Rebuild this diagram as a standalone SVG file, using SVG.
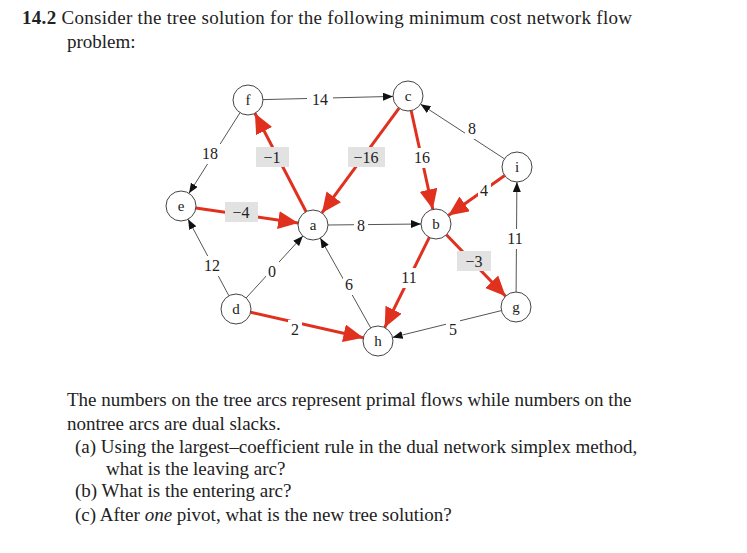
<svg xmlns="http://www.w3.org/2000/svg" width="747" height="553" viewBox="0 0 747 553">
<style>
.t{font-family:"Liberation Serif",serif;font-size:19px;fill:#222}
.n circle{fill:#fff;stroke:#444;stroke-width:1}
.n text{font-family:"Liberation Serif",serif;font-size:15px;text-anchor:middle;fill:#222}
.bk{stroke:#555;stroke-width:1;marker-end:url(#ab)}
.rd{stroke:#e0301e;stroke-width:3;marker-end:url(#ar)}
.lb{font-family:"Liberation Serif",serif;font-size:16px;text-anchor:middle;fill:#222}
.wb{fill:#fff}
.gb{fill:#e2e2e2}
</style>
<defs>
<marker id="ab" markerUnits="userSpaceOnUse" markerWidth="11" markerHeight="9" refX="10" refY="4" orient="auto"><path d="M0,0L10,4L0,8z" fill="#111"/></marker>
<marker id="ar" markerUnits="userSpaceOnUse" markerWidth="21" markerHeight="19" refX="20" refY="9" orient="auto"><path d="M0,0L20,9L0,18z" fill="#e0301e"/></marker>
</defs>
<rect width="747" height="553" fill="#fff"/>
<text class="t" x="22" y="24" textLength="610"><tspan font-weight="bold">14.2</tspan> Consider the tree solution for the following minimum cost network flow</text>
<text class="t" x="67" y="48">problem:</text>
<g id="connectors">
<line class="bk" x1="263" y1="99.6" x2="393" y2="96.4"/>
<line class="bk" x1="504.4" y1="158.8" x2="420.6" y2="104.2"/>
<line class="bk" x1="240" y1="112.7" x2="189" y2="193.3"/>
<line class="rd" x1="306.1" y1="211.7" x2="254.9" y2="113.3"/>
<line class="rd" x1="399.1" y1="108.1" x2="321.9" y2="212.9"/>
<line class="rd" x1="411.2" y1="110.7" x2="432.8" y2="209.3"/>
<line class="rd" x1="504.7" y1="175.6" x2="448.3" y2="215.4"/>
<line class="rd" x1="195.8" y1="208.1" x2="298.2" y2="222.9"/>
<line class="bk" x1="328" y1="225" x2="421" y2="224"/>
<line class="bk" x1="516.1" y1="292" x2="516.9" y2="182"/>
<line class="bk" x1="228.9" y1="295.8" x2="188.1" y2="219.2"/>
<line class="bk" x1="246.1" y1="298" x2="302.9" y2="236"/>
<line class="bk" x1="370.7" y1="327.9" x2="320.3" y2="238.1"/>
<line class="rd" x1="429.3" y1="237.4" x2="384.7" y2="327.6"/>
<line class="rd" x1="446.4" y1="234.8" x2="505.6" y2="296.2"/>
<line class="rd" x1="250.6" y1="312.3" x2="363.4" y2="337.7"/>
<line class="bk" x1="501.4" y1="310.6" x2="392.6" y2="337.4"/>
<g id="labels">
<rect class="wb" x="307" y="89" width="26" height="20"/><text class="lb" x="320" y="105">14</text>
<rect class="wb" x="465" y="119" width="14" height="20"/><text class="lb" x="472" y="134">8</text>
<rect class="wb" x="198" y="144" width="24" height="20"/><text class="lb" x="210" y="159">18</text>
<rect class="gb" x="256" y="147" width="33" height="20"/><text class="lb" x="272" y="163">−1</text>
<rect class="gb" x="348" y="147" width="37" height="20"/><text class="lb" x="366" y="163">−16</text>
<rect class="wb" x="410" y="148" width="24" height="20"/><text class="lb" x="422" y="163">16</text>
<rect class="wb" x="478" y="181" width="13" height="20"/><text class="lb" x="484" y="196">4</text>
<rect class="gb" x="225" y="202" width="33" height="20"/><text class="lb" x="241" y="218">−4</text>
<rect class="wb" x="354" y="216" width="14" height="20"/><text class="lb" x="361" y="231">8</text>
<rect class="wb" x="504" y="229" width="24" height="20"/><text class="lb" x="515" y="244">11</text>
<rect class="wb" x="200" y="256" width="24" height="20"/><text class="lb" x="212" y="271">12</text>
<rect class="wb" x="266" y="262" width="13" height="20"/><text class="lb" x="272" y="277">0</text>
<rect class="wb" x="343" y="275" width="13" height="20"/><text class="lb" x="349" y="290">6</text>
<rect class="wb" x="397" y="268" width="24" height="20"/><text class="lb" x="409" y="283">11</text>
<rect class="gb" x="457" y="251" width="34" height="20"/><text class="lb" x="474" y="267">−3</text>
<rect class="wb" x="288" y="320" width="14" height="20"/><text class="lb" x="295" y="335">2</text>
<rect class="wb" x="446" y="320" width="14" height="20"/><text class="lb" x="453" y="335">5</text>
</g>
</g>
<g id="node-f" class="n"><circle cx="248" cy="100" r="15"/><text x="248" y="105">f</text></g>
<g id="node-c" class="n"><circle cx="408" cy="96" r="15"/><text x="408" y="101">c</text></g>
<g id="node-i" class="n"><circle cx="517" cy="167" r="15"/><text x="517" y="172">i</text></g>
<g id="node-e" class="n"><circle cx="181" cy="206" r="15"/><text x="181" y="211">e</text></g>
<g id="node-a" class="n"><circle cx="313" cy="225" r="15"/><text x="313" y="230">a</text></g>
<g id="node-b" class="n"><circle cx="436" cy="224" r="15"/><text x="436" y="229">b</text></g>
<g id="node-d" class="n"><circle cx="236" cy="309" r="15"/><text x="236" y="314">d</text></g>
<g id="node-h" class="n"><circle cx="378" cy="341" r="15"/><text x="378" y="346">h</text></g>
<g id="node-g" class="n"><circle cx="516" cy="307" r="15"/><text x="516" y="312">g</text></g>
<text class="t" x="67" y="406">The numbers on the tree arcs represent primal flows while numbers on the</text>
<text class="t" x="67" y="430">nontree arcs are dual slacks.</text>
<text class="t" x="75" y="453">(a) Using the largest–coefficient rule in the dual network simplex method,</text>
<text class="t" x="106" y="475">what is the leaving arc?</text>
<text class="t" x="75" y="497">(b) What is the entering arc?</text>
<text class="t" x="75" y="521">(c) After <tspan font-style="italic">one</tspan> pivot, what is the new tree solution?</text>
</svg>
